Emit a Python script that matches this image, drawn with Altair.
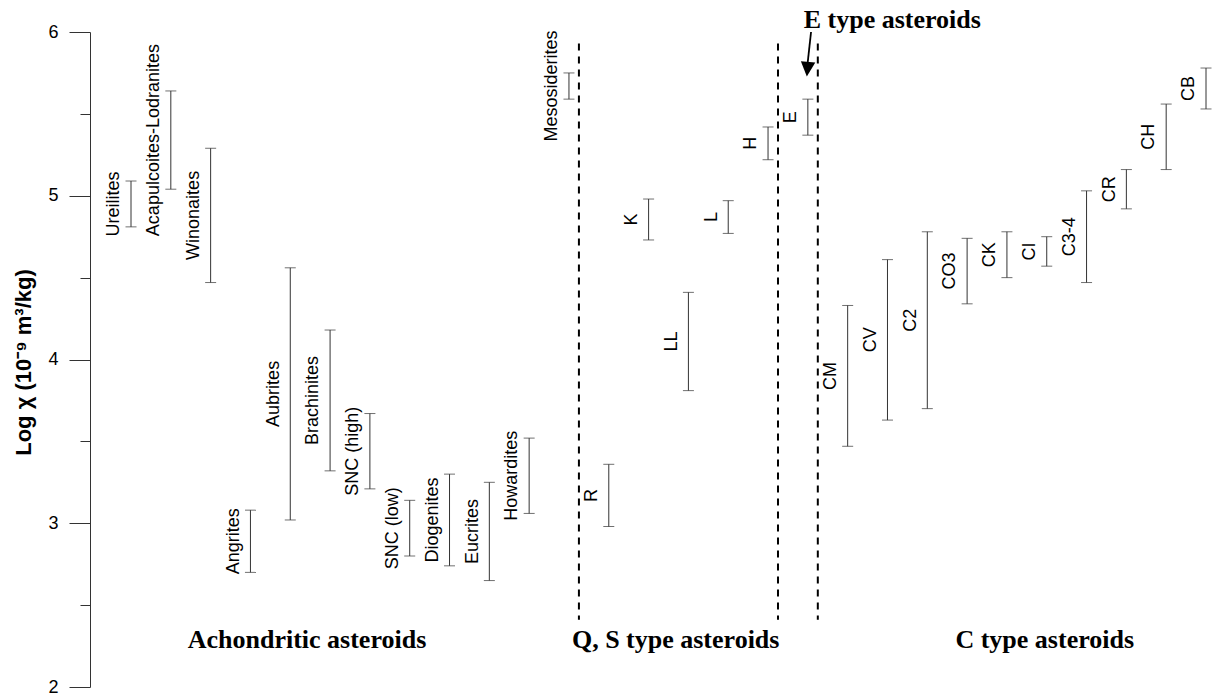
import altair as alt
import pandas as pd

# ---- data ----
names = ["Ureilites", "Acapulcoites-Lodranites", "Winonaites", "Angrites", "Aubrites",
         "Brachinites", "SNC (high)", "SNC (low)", "Diogenites", "Eucrites", "Howardites",
         "Mesosiderites", "R", "K", "LL", "L", "H", "E",
         "CM", "CV", "C2", "CO3", "CK", "CI", "C3-4", "CR", "CH", "CB"]
positions = [1, 2, 3, 4, 5, 6, 7, 8, 9, 10, 11, 12, 13, 14, 15, 16, 17, 18,
             19, 20, 21, 22, 23, 24, 25, 26, 27, 28]
low = [4.81, 5.04, 4.47, 2.70, 3.02, 3.32, 3.21, 2.80, 2.74, 2.65, 3.06, 5.59, 2.98, 4.73,
       3.81, 4.77, 5.22, 5.37, 3.47, 3.63, 3.70, 4.34, 4.50, 4.57, 4.47, 4.92, 5.16, 5.53]
high = [5.09, 5.64, 5.29, 3.08, 4.56, 4.18, 3.67, 3.14, 3.30, 3.25, 3.52, 5.75, 3.36, 4.98,
        4.41, 4.97, 5.42, 5.59, 4.33, 4.61, 4.78, 4.74, 4.78, 4.75, 5.03, 5.16, 5.56, 5.78]

# group separators (dashed lines)
sep_x = [12.25, 17.25, 18.25]
sep_top = [5.93, 5.93, 5.93]
sep_bottom = [2.41, 2.41, 2.41]

# group labels
group_text = ["Achondritic asteroids", "Q, S type asteroids", "C type asteroids", "E type asteroids"]
group_x = [5.42, 14.68, 23.95, 20.12]
group_y = [2.236, 2.236, 2.236, 6.025]

# arrow pointing at E group
arrow_x = [18.08]
arrow_y = [6.0]
arrow_x2 = [17.99]
arrow_y2 = [5.80]
head_x = [17.99]
head_y = [5.773]

y_ticks = [2, 2.5, 3, 3.5, 4, 4.5, 5, 5.5, 6]

df = pd.DataFrame({"name": names, "pos": positions, "lo": low, "hi": high})
seps = pd.DataFrame({"x": sep_x, "y": sep_top, "y2": sep_bottom})
groups = pd.DataFrame({"text": group_text, "x": group_x, "y": group_y})
arrow = pd.DataFrame({"x": arrow_x, "y": arrow_y, "x2": arrow_x2, "y2": arrow_y2})
head = pd.DataFrame({"x": head_x, "y": head_y})

xscale = alt.Scale(domain=[-0.03, 28.0], nice=False, zero=False)
yscale = alt.Scale(domain=[2, 6], nice=False, zero=False)

LINE = "#333333"
SANS = "Liberation Sans"
SERIF = "Liberation Serif"

yaxis = alt.Axis(
    values=y_ticks,
    labelExpr="datum.value % 1 === 0 ? format(datum.value, 'd') : ''",
    tickSize={"condition": {"test": "datum.value % 1 === 0", "value": 21}, "value": 10},
    tickColor=LINE, domainColor=LINE, tickWidth=1, domainWidth=1,
    labelFont=SANS, labelFontSize=18, labelColor="#000000", labelPadding=11,
    grid=False,
    title="Log χ (10⁻⁹ m³/kg)",
    titleFont=SANS, titleFontSize=22, titleFontWeight="bold", titleColor="#000000",
    titleAngle=270, titleAlign="center", titleBaseline="alphabetic",
    titleX=-60, titleY=330,
)


def X(field):
    return alt.X(field, type="quantitative", scale=xscale, axis=None)


def Y(field):
    return alt.Y(field, type="quantitative", scale=yscale, axis=yaxis)


base = alt.Chart(df)

bars = base.mark_rule(color=LINE, strokeWidth=1).encode(
    x=X("pos"), y=Y("lo"), y2="hi:Q",
)

cap_lo = base.mark_tick(orient="horizontal", color=LINE, size=11, thickness=1).encode(
    x=X("pos"), y=Y("lo"),
)
cap_hi = base.mark_tick(orient="horizontal", color=LINE, size=11, thickness=1).encode(
    x=X("pos"), y=Y("hi"),
)

labels = base.transform_calculate(
    lx="datum.pos - 0.42", ly="(datum.lo + datum.hi) / 2"
).mark_text(angle=270, align="center", baseline="middle", font=SANS, fontSize=18,
            color="#000000").encode(
    x=X("lx"), y=Y("ly"), text="name:N",
)

dashed = alt.Chart(seps).mark_rule(color="#000000", strokeWidth=2, strokeDash=[7, 6]).encode(
    x=X("x"), y=Y("y"), y2="y2:Q",
)

group_labels = alt.Chart(groups).mark_text(font=SERIF, fontSize=26, fontWeight="bold",
                                           align="center", baseline="alphabetic",
                                           color="#000000").encode(
    x=X("x"), y=Y("y"), text="text:N",
)

shaft = alt.Chart(arrow).mark_rule(color="#000000", strokeWidth=1.8).encode(
    x=X("x"), y=Y("y"), x2="x2:Q", y2="y2:Q",
)

arrow_head = alt.Chart(head).mark_point(shape="M-1,-1L1,-1L0,1Z", filled=True, size=210,
                                        angle=5, color="#000000", opacity=1).encode(
    x=X("x"), y=Y("y"),
)

chart = alt.layer(
    bars, cap_lo, cap_hi, labels, dashed, group_labels, shaft, arrow_head
).properties(
    width=1116, height=655,
    autosize=alt.AutoSizeParams(type="none"),
    padding={"left": 82, "top": 24, "right": 6, "bottom": 10},
    background="white",
).configure_view(stroke=None)

chart.save("out.html", embed_options={"renderer": "svg", "actions": False})
